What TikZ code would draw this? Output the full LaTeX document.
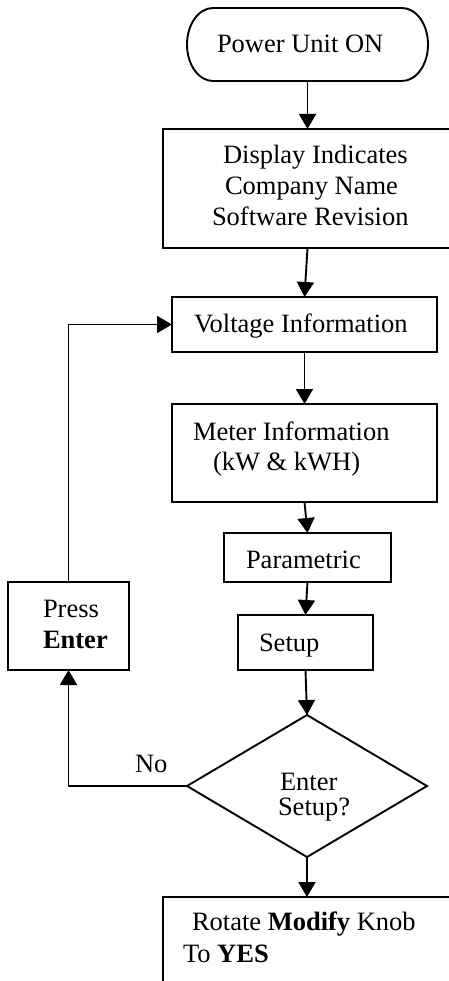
\documentclass[tikz,border=0pt]{standalone}
\usepackage{fontspec}
\setmainfont{Liberation Serif}
\usetikzlibrary{arrows.meta,shapes.geometric}
\begin{document}
\begin{tikzpicture}[x=1pt,y=-1pt,
  every node/.style={inner sep=0pt,outer sep=0pt},
  boxnode/.style={draw,rectangle,line width=1.9pt},
  txt/.style={anchor=base west,font=\fontsize{26.5}{31}\selectfont},
  arr/.style={line width=1.9pt,-{Triangle[width=17pt,length=15pt]}}]
\useasboundingbox (0,0) rectangle (448,981);
% terminator
\node[rectangle,minimum width=241pt,minimum height=73pt] (term) at (307.5,44.5) {};
\draw[line width=1.9pt] ([xshift=26pt]term.north west) -- ([xshift=-26pt]term.north east)
  arc[start angle=90,end angle=-90,x radius=26pt,y radius=36.5pt]
  -- ([xshift=26pt]term.south west)
  arc[start angle=270,end angle=90,x radius=26pt,y radius=36.5pt] -- cycle;
% boxes
\node[boxnode,minimum width=307pt,minimum height=119pt] (disp) at (316.5,188.5) {};
\node[boxnode,minimum width=265pt,minimum height=55pt] (volt) at (304.5,324.5) {};
\node[boxnode,minimum width=265pt,minimum height=98pt] (meter) at (304.5,453) {};
\node[boxnode,minimum width=167pt,minimum height=49pt] (param) at (307.5,557.5) {};
\node[boxnode,minimum width=135pt,minimum height=55pt] (setup) at (305.5,642.5) {};
\node[boxnode,minimum width=121pt,minimum height=88pt] (press) at (68.5,626) {};
\node[draw,shape=diamond,line width=1.9pt,aspect=1.69,minimum width=240pt,minimum height=142pt] (dia) at (307,786) {};
\node[boxnode,minimum width=307pt,minimum height=103pt] (bot) at (316.5,948.5) {};
% texts
\node[txt] (tterm) at (217,53) {Power Unit ON};
\node[txt] (td1) at (223,164) {Display Indicates};
\node[txt] (td2) at (225,195) {Company Name};
\node[txt] (td3) at (212,226) {Software Revision};
\node[txt] (tv) at (194,332) {Voltage Information};
\node[txt] (tm1) at (193,440) {Meter Information};
\node[txt] (tm2) at (213,470) {(kW \& kWH)};
\node[txt] (tp) at (246,568) {Parametric};
\node[txt] (ts) at (259,651) {Setup};
\node[txt] (tpr1) at (43,617) {Press};
\node[txt] (tpr2) at (43,648) {\textbf{Enter}};
\node[txt] (tno) at (135,772) {No};
\node[txt] (tdi1) at (280,790) {Enter};
\node[txt] (tdi2) at (278,815) {Setup?};
\node[txt] (tb1) at (192,930) {Rotate \textbf{Modify} Knob};
\node[txt] (tb2) at (183,962) {To \textbf{YES}};
% connectors
\draw[arr] (term.south) -- (term.south |- disp.north);
\draw[arr] (term.south |- disp.south) -- (volt.north);
\draw[arr] (volt.south) -- (meter.north);
\draw[arr] (meter.south) -- (param.north);
\draw[arr] (param.south) -- (setup.north);
\draw[arr] (setup.south) -- (dia.north);
\draw[arr] (dia.south) -- (dia.south |- bot.north);
\draw[arr] (dia.west) -- (dia.west -| press.south) -- (press.south);
\draw[arr] (press.north) -- (press.north |- volt.west) -- (volt.west);
\end{tikzpicture}
\end{document}
